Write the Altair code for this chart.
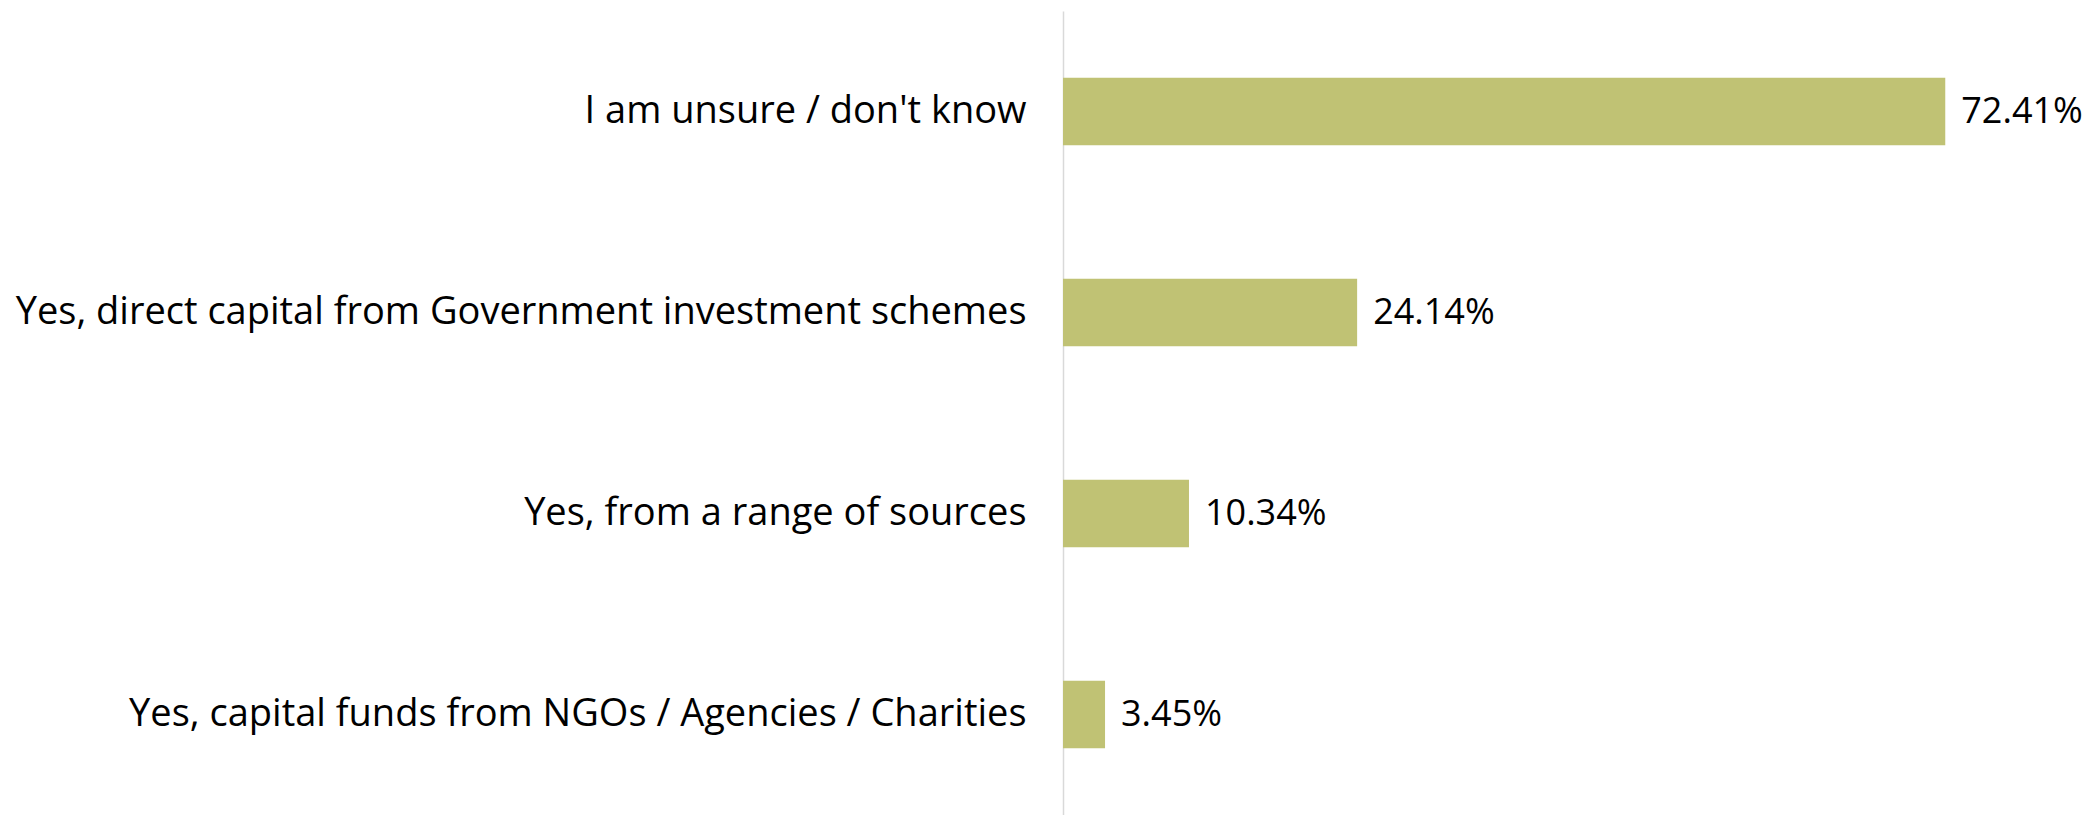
import altair as alt
import pandas as pd

categories = [
    "I am unsure / don't know",
    "Yes, direct capital from Government investment schemes",
    "Yes, from a range of sources",
    "Yes, capital funds from NGOs / Agencies / Charities",
]
values = [72.41, 24.14, 10.34, 3.45]
labels = ["72.41%", "24.14%", "10.34%", "3.45%"]

df = pd.DataFrame({"cat": categories, "val": values, "lbl": labels})

FONT = "Open Sans"
FS = 38

y = alt.Y(
    "cat:N",
    sort=categories,
    title=None,
    scale=alt.Scale(paddingInner=0.665, paddingOuter=0.3325),
    axis=alt.Axis(
        domainColor="#d9d9d9",
        domainWidth=1.5,
        ticks=False,
        labelFontSize=FS,
        labelFont=FONT,
        labelColor="#000000",
        labelPadding=37,
        labelLimit=0,
        grid=False,
    ),
)
x = alt.X("val:Q", scale=alt.Scale(domain=[0, 76]), axis=None)

bars = alt.Chart(df).mark_bar(color="#c0c274").encode(x=x, y=y)
text = alt.Chart(df).mark_text(
    align="left", baseline="middle", dx=16, fontSize=36, font=FONT, color="#000000"
).encode(x=x, y=y, text="lbl:N")

chart = (
    alt.layer(bars, text)
    .properties(
        width=926,
        height=804,
        autosize=alt.AutoSizeParams(type="none"),
        padding={"left": 1055, "top": 3, "right": 99, "bottom": 0},
    )
    .configure(background="white", view=alt.ViewConfig(stroke="transparent", strokeWidth=0))
)

chart.save("out.html", embed_options={"renderer": "svg", "actions": False})
